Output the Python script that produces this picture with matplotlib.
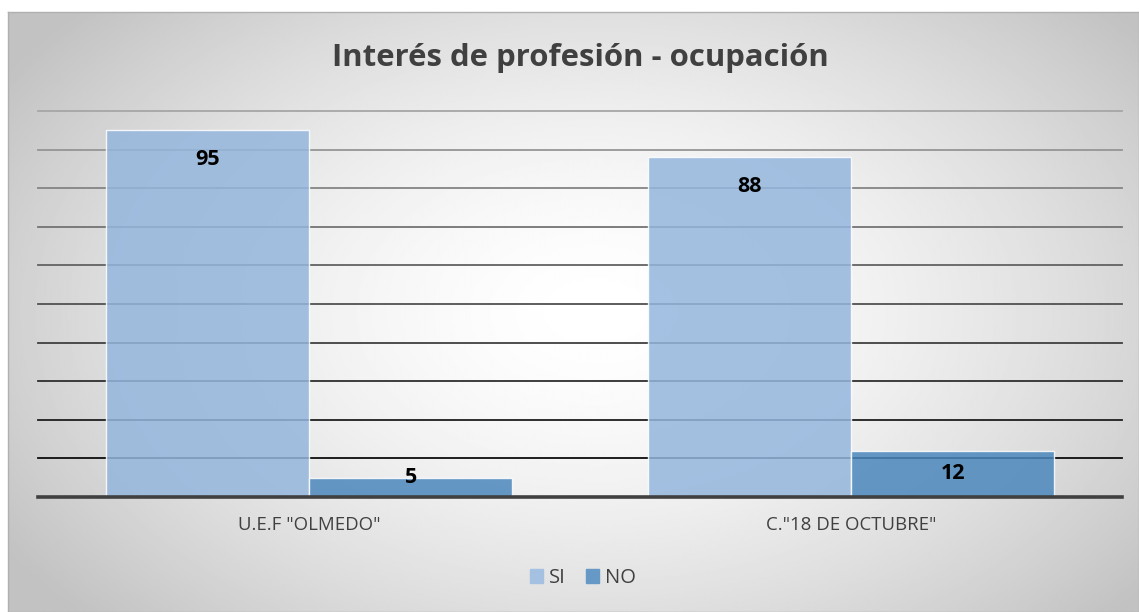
import numpy as np
import matplotlib
matplotlib.use("Agg")
import matplotlib.pyplot as plt

# datos del gráfico
categorias = ['U.E.F "OLMEDO"', 'C."18 DE OCTUBRE"']
si = [95, 88]
no = [5, 12]
series = ["SI", "NO"]
titulo = "Interés de profesión - ocupación"

plt.rcParams['font.family'] = ['Open Sans', 'DejaVu Sans']

fig = plt.figure(figsize=(11.39, 6.12), dpi=100)
fig.patch.set_facecolor("white")
W, H = 1139, 612

# fondo con degradado radial
bg = fig.add_axes([8 / W, 0, 1 - 8 / W, 1 - 12 / H])
yy, xx = np.mgrid[0:1:300j, 0:1:600j]
r = np.sqrt(((xx - 0.52) / 0.62) ** 2 + ((yy - 0.5) / 0.75) ** 2)
grad = 1 - 0.24 * np.clip(r, 0, 1) ** 1.6
bg.imshow(grad, cmap="gray", vmin=0, vmax=1, aspect="auto", extent=[0, 1, 0, 1])
bg.set_xticks([])
bg.set_yticks([])
for s in bg.spines.values():
    s.set_color("#b0b0b0")
    s.set_linewidth(1)

ax = fig.add_axes([38 / W, (612 - 497) / H, (1122 - 38) / W, (497 - 111) / H])
ax.patch.set_alpha(0)

x = np.arange(len(categorias))
ancho = 0.375

# líneas de división con tono que se oscurece hacia abajo
niveles = np.arange(10, 101, 10)
for v in niveles:
    t = (v - 10) / 90
    g = 0.05 + 0.6 * t
    ax.axhline(v, color=(g, g, g), linewidth=1.3, zorder=1, clip_on=False)

b1 = ax.bar(x - ancho / 2, si, ancho, color="#94B6DD", alpha=0.85,
            edgecolor=(1, 1, 1, 0.7), linewidth=1, label=series[0], zorder=2)
b2 = ax.bar(x + ancho / 2, no, ancho, color="#4B87BC", alpha=0.85,
            edgecolor=(1, 1, 1, 0.7), linewidth=1, label=series[1], zorder=2)

for barras in (b1, b2):
    for b in barras:
        v = b.get_height()
        y = v - 7.5 if v > 20 else max(v / 2, 5)
        ax.text(b.get_x() + b.get_width() / 2, y, str(int(v)), ha="center",
                va="center", fontsize=15.5, fontweight="bold", color="black", zorder=3)

ax.axhline(0, color="#404040", linewidth=2.6, zorder=4, clip_on=False)

ax.set_xlim(-0.5, 1.5)
ax.set_ylim(0, 100)
ax.set_yticks([])
ax.set_xticks(x)
ax.set_xticklabels(categorias, fontsize=13.4, color="#404040")
ax.tick_params(axis="x", length=0, pad=14)
for s in ax.spines.values():
    s.set_visible(False)

fig.text(580 / W, 1 - 58 / H, titulo, ha="center", va="center",
         fontsize=22.4, fontweight="bold", color="#404040")

h1 = plt.Rectangle((0, 0), 1, 1, color="#A4C1E2")
h2 = plt.Rectangle((0, 0), 1, 1, color="#6699C6")
leg = fig.legend(handles=[h1, h2], labels=series, loc="center",
                 bbox_to_anchor=(583 / W, 1 - 578 / H), ncol=2, frameon=False,
                 fontsize=14.5, handlelength=0.65, handleheight=0.65,
                 handletextpad=0.3, columnspacing=1.0)
for t in leg.get_texts():
    t.set_color("#404040")

fig.savefig("out.png", dpi=100)
